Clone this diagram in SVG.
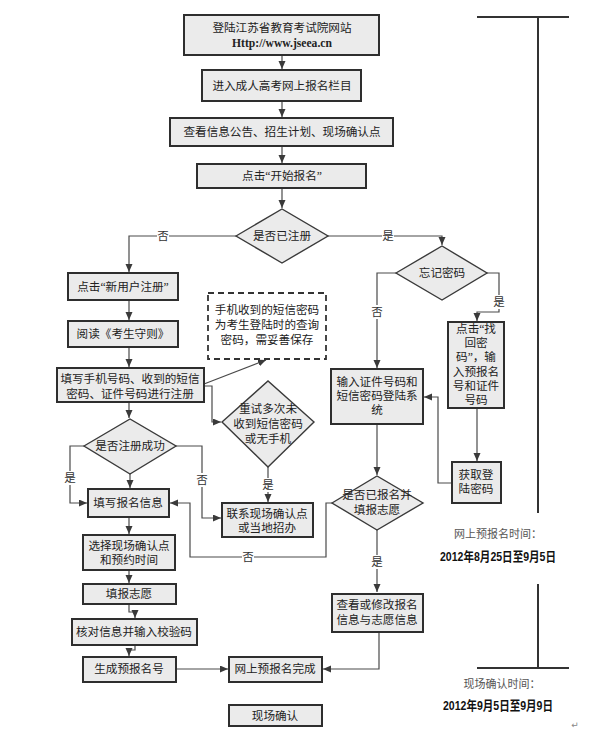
<svg xmlns="http://www.w3.org/2000/svg" width="596" height="742" viewBox="0 0 596 742">
<defs>
<marker id="arr" markerUnits="userSpaceOnUse" markerWidth="9" markerHeight="8" refX="8" refY="3.5" orient="auto">
<path d="M0,0 L8,3.5 L0,7 z" fill="#3a3a3a"/>
</marker>
<style>
.box{fill:#ebebeb;stroke:#2e2e2e;stroke-width:2}
.dia{fill:#ebebeb;stroke:#3a3a3a;stroke-width:1.4}
.dash{fill:#fff;stroke:#333;stroke-width:1.8;stroke-dasharray:6,4}
.t{font-family:"Liberation Serif","Noto Sans CJK SC",serif;font-size:11.6px;fill:#222;text-anchor:middle;dominant-baseline:central}
.lb{font-family:"Liberation Serif","Noto Sans CJK SC",serif;font-size:11.5px;fill:#333;text-anchor:middle;dominant-baseline:central}
.c{fill:none;stroke:#4a4a4a;stroke-width:1.2}
.ca{fill:none;stroke:#4a4a4a;stroke-width:1.2;marker-end:url(#arr)}
.tl{fill:none;stroke:#333;stroke-width:2}
.lbg{fill:#fff}
.tt{font-family:"Liberation Serif","Noto Sans CJK SC",serif;font-size:11px;fill:#555;text-anchor:middle;dominant-baseline:central}
.td{font-family:"Liberation Sans Narrow","Liberation Sans","Noto Sans CJK SC",sans-serif;font-size:13px;font-weight:bold;fill:#111;text-anchor:middle;dominant-baseline:central}
</style>
</defs>
<rect width="596" height="742" fill="#fff"/>

<g id="connectors">
<path class="ca" d="M282,55 V69"/>
<path class="ca" d="M282,101 V117"/>
<path class="ca" d="M282,146 V163"/>
<path class="ca" d="M282,188 V208"/>
<path class="ca" d="M236,236 H129 V272"/>
<path class="ca" d="M328,236 H442 V245"/>
<path class="ca" d="M396,273 H377 V368"/>
<path class="ca" d="M487,273 H499 V312 H477 V321"/>
<path class="ca" d="M477,408 V461"/>
<path class="ca" d="M452,483 H438 V397 H424"/>
<path class="ca" d="M377,424 V475"/>
<path class="ca" d="M377,530 V592"/>
<path class="ca" d="M332,503 H326 V557 H190 V503 H170"/>
<path class="ca" d="M379,632 V669 H323"/>
<path class="ca" d="M176,669 H228"/>
<path class="ca" d="M129,300 V320"/>
<path class="ca" d="M129,347 V367"/>
<path class="ca" d="M129,402 V418"/>
<path class="ca" d="M130,474 V488"/>
<path class="ca" d="M84,446 H70 V503 H87"/>
<path class="ca" d="M176,446 H202 V518 H221"/>
<path class="ca" d="M204,386 H212 V422 H221"/>
<path class="ca" d="M204,384 L266,360"/>
<path class="ca" d="M268,467 V502"/>
<path class="ca" d="M129,517 V534"/>
<path class="ca" d="M129,570 V583"/>
<path class="ca" d="M129,604 V612 H135 V618"/>
<path class="ca" d="M135,645 V650 H129 V656"/>
<rect class="lbg" x="157" y="229" width="12" height="14"/><text class="lb" x="163" y="236">否</text>
<rect class="lbg" x="382" y="229" width="12" height="14"/><text class="lb" x="388" y="236">是</text>
<rect class="lbg" x="371" y="305" width="12" height="14"/><text class="lb" x="377" y="312">否</text>
<rect class="lbg" x="493" y="295" width="12" height="14"/><text class="lb" x="499" y="302">是</text>
<rect class="lbg" x="64" y="471" width="12" height="14"/><text class="lb" x="70" y="478">是</text>
<rect class="lbg" x="196" y="473" width="12" height="14"/><text class="lb" x="202" y="480">否</text>
<rect class="lbg" x="262" y="478" width="12" height="14"/><text class="lb" x="268" y="485">是</text>
<rect class="lbg" x="242" y="550" width="12" height="14"/><text class="lb" x="248" y="557">否</text>
<rect class="lbg" x="371" y="555" width="12" height="14"/><text class="lb" x="377" y="562">是</text>
</g>

<g id="n-site">
<rect class="box" x="184" y="15" width="195" height="40"/>
<text class="t" x="282" y="28">登陆江苏省教育考试院网站</text>
<text class="t" x="282" y="43" style="font-weight:bold">Http://www.jseea.cn</text>
</g>
<g id="n-enter">
<rect class="box" x="202" y="70" width="159" height="31"/>
<text class="t" x="282" y="86">进入成人高考网上报名栏目</text>
</g>
<g id="n-view">
<rect class="box" x="170" y="118" width="223" height="28"/>
<text class="t" x="282" y="132">查看信息公告、招生计划、现场确认点</text>
</g>
<g id="n-start">
<rect class="box" x="197" y="164" width="169" height="24"/>
<text class="t" x="282" y="176">点击“开始报名”</text>
</g>
<g id="d-registered">
<polygon class="dia" points="236,236 282,209 328,236 282,263"/>
<text class="t" x="282" y="236">是否已注册</text>
</g>
<g id="n-newuser">
<rect class="box" x="68" y="273" width="110" height="27"/>
<text class="t" x="123" y="287">点击“新用户注册”</text>
</g>
<g id="n-read">
<rect class="box" x="68" y="321" width="110" height="26"/>
<text class="t" x="123" y="334">阅读《考生守则》</text>
</g>
<g id="n-fill">
<rect class="box" x="57" y="368" width="147" height="34"/>
<text class="t" x="130" y="379">填写手机号码、收到的短信</text>
<text class="t" x="130" y="394">密码、证件号码进行注册</text>
</g>
<g id="n-note">
<rect class="dash" x="208" y="293" width="118" height="66"/>
<text class="t" x="267" y="310">手机收到的短信密码</text>
<text class="t" x="267" y="325">为考生登陆时的查询</text>
<text class="t" x="267" y="340">密码，需妥善保存</text>
</g>
<g id="d-retry">
<polygon class="dia" points="222,422 268,381 314,422 268,467"/>
<text class="t" x="268" y="409">重试多次未</text>
<text class="t" x="268" y="424">收到短信密码</text>
<text class="t" x="268" y="439">或无手机</text>
</g>
<g id="d-regok">
<polygon class="dia" points="84,446 130,419 176,446 130,474"/>
<text class="t" x="130" y="446">是否注册成功</text>
</g>
<g id="n-contact">
<rect class="box" x="222" y="503" width="91" height="34"/>
<text class="t" x="267" y="514">联系现场确认点</text>
<text class="t" x="267" y="528">或当地招办</text>
</g>
<g id="n-info">
<rect class="box" x="88" y="489" width="81" height="28"/>
<text class="t" x="128" y="503">填写报名信息</text>
</g>
<g id="n-select">
<rect class="box" x="83" y="535" width="92" height="35"/>
<text class="t" x="129" y="546">选择现场确认点</text>
<text class="t" x="129" y="560">和预约时间</text>
</g>
<g id="n-wish">
<rect class="box" x="83" y="584" width="93" height="20"/>
<text class="t" x="129" y="594">填报志愿</text>
</g>
<g id="n-check">
<rect class="box" x="72" y="619" width="125" height="26"/>
<text class="t" x="134" y="632">核对信息并输入校验码</text>
</g>
<g id="n-number">
<rect class="box" x="83" y="657" width="93" height="25"/>
<text class="t" x="129" y="669">生成预报名号</text>
</g>
<g id="n-done">
<rect class="box" x="229" y="657" width="93" height="25"/>
<text class="t" x="275" y="669">网上预报名完成</text>
</g>
<g id="n-confirm">
<rect class="box" x="229" y="705" width="93" height="21"/>
<text class="t" x="275" y="716">现场确认</text>
</g>
<g id="d-forgot">
<polygon class="dia" points="396,273 442,246 487,273 442,300"/>
<text class="t" x="442" y="273">忘记密码</text>
</g>
<g id="n-retrieve">
<rect class="box" x="448" y="322" width="56" height="86"/>
<text class="t" x="476" y="329">点击“找</text>
<text class="t" x="476" y="343">回密</text>
<text class="t" x="476" y="357">码”，输</text>
<text class="t" x="476" y="372">入预报名</text>
<text class="t" x="476" y="386">号和证件</text>
<text class="t" x="476" y="400">号码</text>
</g>
<g id="n-getpwd">
<rect class="box" x="452" y="462" width="49" height="41"/>
<text class="t" x="476" y="475">获取登</text>
<text class="t" x="476" y="489">陆密码</text>
</g>
<g id="n-login">
<rect class="box" x="331" y="369" width="92" height="55"/>
<text class="t" x="377" y="382">输入证件号码和</text>
<text class="t" x="377" y="396">短信密码登陆系</text>
<text class="t" x="377" y="410">统</text>
</g>
<g id="d-applied">
<polygon class="dia" points="332,503 377,476 423,503 377,530"/>
<text class="t" x="377" y="495">是否已报名并</text>
<text class="t" x="377" y="510">填报志愿</text>
</g>
<g id="n-modify">
<rect class="box" x="332" y="594" width="91" height="38"/>
<text class="t" x="377" y="605">查看或修改报名</text>
<text class="t" x="377" y="620">信息与志愿信息</text>
</g>

<g id="timeline">
<path class="tl" d="M477,17 H569 M538,17 V513 M538,584 V668 M477,668 H569"/>
<text class="tt" x="498" y="534">网上预报名时间：</text>
<text class="td" x="498" y="556" textLength="116" lengthAdjust="spacingAndGlyphs">2012年8月25日至9月5日</text>
<text class="tt" x="502" y="684">现场确认时间：</text>
<text class="td" x="498" y="705" textLength="110" lengthAdjust="spacingAndGlyphs">2012年9月5日至9月9日</text>
<text x="575" y="725" style="font-family:'DejaVu Sans',sans-serif;font-size:9px;fill:#888;text-anchor:middle;dominant-baseline:central">↵</text>
</g>
</svg>
